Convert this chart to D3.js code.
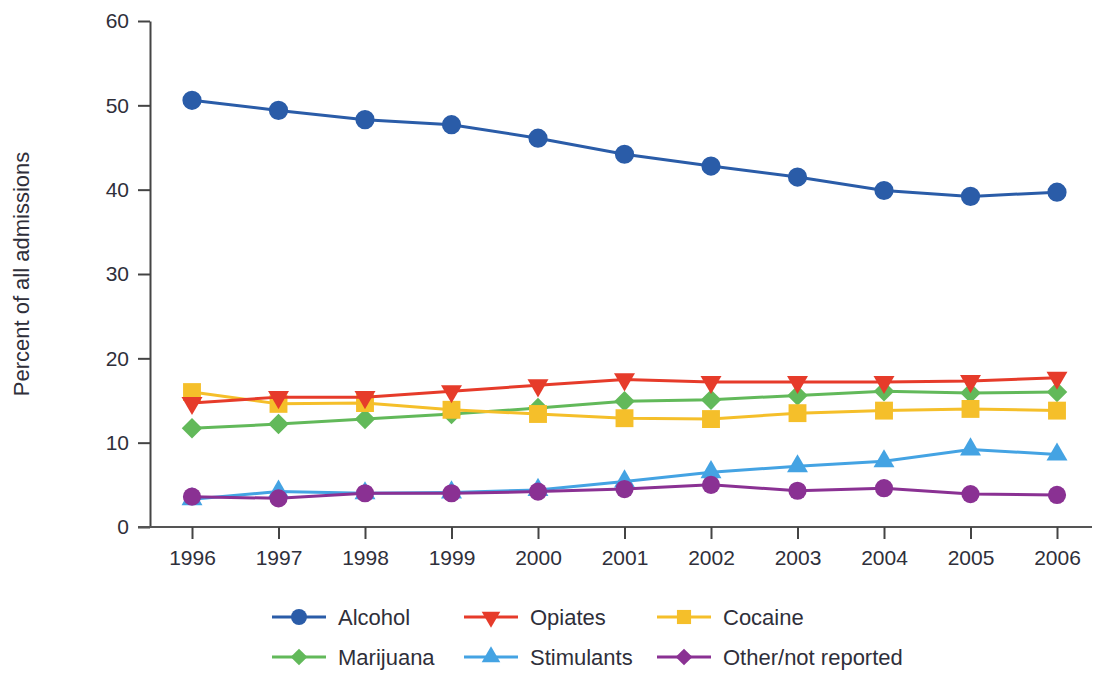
<!DOCTYPE html>
<html>
<head>
<meta charset="utf-8">
<script src="https://cdn.jsdelivr.net/npm/d3@7"></script>
<style>
  html, body { margin: 0; padding: 0; background: #fff; }
  svg { display: block; }
  text { font-family: "Liberation Sans", Arial, sans-serif; fill: #2f2f3a; }
</style>
</head>
<body>
<svg id="chart" width="1096" height="673"></svg>
<script>
const years = [1996, 1997, 1998, 1999, 2000, 2001, 2002, 2003, 2004, 2005, 2006];
const yTicks = [0, 10, 20, 30, 40, 50, 60];
const seriesNames = ["Alcohol", "Opiates", "Cocaine", "Marijuana", "Stimulants", "Other/not reported"];
const alcohol    = [50.6, 49.4, 48.3, 47.7, 46.1, 44.2, 42.8, 41.5, 39.9, 39.2, 39.7];
const opiates    = [14.7, 15.4, 15.4, 16.1, 16.8, 17.5, 17.2, 17.2, 17.2, 17.3, 17.7];
const cocaine    = [16.0, 14.6, 14.7, 13.9, 13.4, 12.9, 12.8, 13.5, 13.8, 14.0, 13.8];
const marijuana  = [11.7, 12.2, 12.8, 13.4, 14.1, 14.9, 15.1, 15.6, 16.1, 15.9, 16.0];
const stimulants = [3.3, 4.2, 4.0, 4.1, 4.4, 5.4, 6.5, 7.2, 7.8, 9.2, 8.6];
const other      = [3.6, 3.4, 4.0, 4.0, 4.2, 4.5, 5.0, 4.3, 4.6, 3.9, 3.8];

const seriesValues = [alcohol, opiates, cocaine, marijuana, stimulants, other];
const colors = ["#2a5ca8", "#e63b2a", "#f5bf2a", "#62b95a", "#44a3e3", "#8a3193"];
// marker definitions: [symbol type, size, rotation]
const markers = [
  [d3.symbolCircle, 290, 0],
  [d3.symbolTriangle, 190, 180],
  [d3.symbolSquare, 320, 0],
  [d3.symbolSquare, 210, 45],
  [d3.symbolTriangle, 190, 0],
  [d3.symbolCircle, 260, 0]
];
const legendMarkers = [
  [d3.symbolCircle, 200, 0],
  [d3.symbolTriangle, 150, 180],
  [d3.symbolSquare, 200, 0],
  [d3.symbolSquare, 140, 45],
  [d3.symbolTriangle, 150, 0],
  [d3.symbolSquare, 140, 45]
];

const svg = d3.select("#chart");

const x = d3.scalePoint().domain(years).range([192, 1057]);
const y = d3.scaleLinear().domain([0, 60]).range([527, 21]);

const FONT = "Liberation Sans, Arial, sans-serif";

// Y axis
const yAxisG = svg.append("g").attr("transform", "translate(150,0)")
  .call(d3.axisLeft(y).tickValues(yTicks).tickSize(12).tickPadding(9).tickSizeOuter(0));
yAxisG.select(".domain").attr("stroke", "#444").attr("stroke-width", 2);
yAxisG.selectAll(".tick line").attr("stroke", "#444").attr("stroke-width", 2);
yAxisG.selectAll(".tick text").style("font-size", "21px").attr("fill", "#2f2f3a").style("font-family", FONT);

// X axis
const xAxisG = svg.append("g").attr("transform", "translate(0,527)")
  .call(d3.axisBottom(x).tickSize(12).tickPadding(11).tickSizeOuter(0));
xAxisG.select(".domain").attr("d", "M138,0H1092").attr("stroke", "#555").attr("stroke-width", 2);
xAxisG.selectAll(".tick line").attr("stroke", "#444").attr("stroke-width", 2);
xAxisG.selectAll(".tick text").style("font-size", "21px").attr("fill", "#2f2f3a").style("font-family", FONT);

// Y axis title
svg.append("text")
  .attr("transform", "translate(29,274) rotate(-90)")
  .attr("text-anchor", "middle")
  .style("font-size", "22px")
  .text("Percent of all admissions");

const line = d3.line().x((d, i) => x(years[i])).y(d => y(d));

// draw series (bottom to top order similar to reference)
const order = [4, 5, 3, 2, 1, 0];
order.forEach(k => {
  const g = svg.append("g");
  g.append("path")
    .datum(seriesValues[k])
    .attr("d", line)
    .attr("fill", "none")
    .attr("stroke", colors[k])
    .attr("stroke-width", 3);
  const [type, size, rot] = markers[k];
  g.selectAll("path.m")
    .data(seriesValues[k])
    .join("path")
    .attr("class", "m")
    .attr("d", d3.symbol().type(type).size(size))
    .attr("transform", (d, i) => `translate(${x(years[i])},${y(d)}) rotate(${rot})`)
    .attr("fill", colors[k]);
});

// Legend
const legX = [272, 464, 657];
const legY = [617, 657];
seriesNames.forEach((name, k) => {
  const col = k % 3, row = Math.floor(k / 3);
  const lx = legX[col], ly = legY[row];
  const g = svg.append("g").attr("transform", `translate(${lx},${ly})`);
  g.append("line").attr("x1", 0).attr("x2", 54).attr("y1", 0).attr("y2", 0)
    .attr("stroke", colors[k]).attr("stroke-width", 3);
  const [type, size, rot] = legendMarkers[k];
  g.append("path")
    .attr("d", d3.symbol().type(type).size(size))
    .attr("transform", `translate(27,0) rotate(${rot})`)
    .attr("fill", colors[k]);
  g.append("text").attr("x", 66).attr("y", 0).attr("dy", "0.35em")
    .style("font-size", "22px").text(name);
});
</script>
</body>
</html>
